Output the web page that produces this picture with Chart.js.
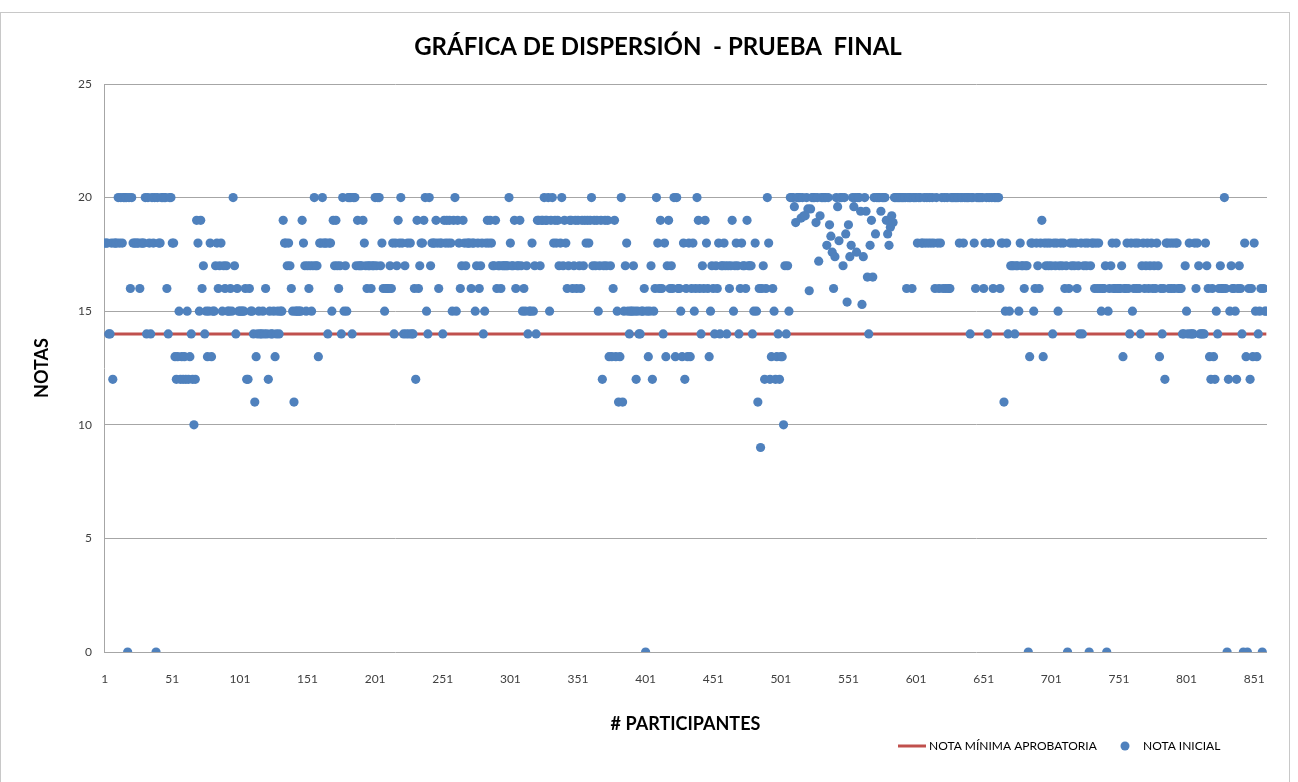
<!DOCTYPE html>
<html>
<head>
<meta charset="utf-8">
<title>Gráfica de dispersión - Prueba final</title>
<script src="https://cdn.jsdelivr.net/npm/chart.js@4.4.0/dist/chart.umd.min.js"></script>
<style>
  html, body { margin: 0; padding: 0; background: #fff; }
  #contenedor { position: relative; width: 1298px; height: 782px; }
</style>
</head>
<body>
<div id="contenedor"><canvas id="grafica" width="1298" height="782"></canvas></div>
<script>
// notas, por bloques de 100 participantes
const notas001_100 = [18,18,18,14,14,18,12,18,18,18, 20,18,20,18,20,20,20,0,20,16,
  20,18,18,18,18,18,16,18,18,18, 20,14,20,18,14,20,18,20,0,20,
  18,18,20,20,20,20,16,14,20,20, 18,18,13,12,13,15,12,13,12,13,
  12,15,12,13,14,12,10,12,19,18, 15,19,16,17,14,15,13,15,18,13,
  15,15,17,18,16,17,18,15,17,16, 17,15,15,16,15,20,17,14,16,15];
const notas101_200 = [15,15,15,15,16,12,12,16,15,15, 14,11,13,14,15,14,14,15,14,16,
  14,12,15,14,14,15,13,14,15,14, 15,15,19,18,18,17,18,17,16,15,
  11,15,15,15,15,15,19,18,17,15, 17,16,17,15,17,20,17,17,13,18,
  18,20,18,18,18,14,18,18,15,19, 17,19,17,16,17,14,20,15,17,15,
  20,20,20,14,20,20,17,19,17,17, 17,19,18,17,16,17,17,16,17,17];
const notas201_300 = [20,17,20,20,17,18,16,15,16,16, 16,17,16,18,14,18,17,19,18,20,
  18,14,17,14,18,14,18,14,14,16, 12,19,16,17,18,18,19,20,15,14,
  20,17,18,18,18,19,18,16,18,18, 14,19,18,19,18,19,18,15,19,20,
  15,19,18,16,17,19,18,17,18,18, 18,16,18,18,15,17,18,16,17,18,
  14,15,18,19,18,19,18,17,17,19, 16,17,17,16,17,17,17,17,17,20];
const notas301_400 = [18,17,17,19,16,17,17,19,17,15, 16,15,17,14,15,15,18,15,17,14,
  19,19,17,19,19,20,19,19,20,15, 19,20,18,19,18,19,17,18,20,17,
  19,18,16,17,19,19,16,17,19,16, 19,17,16,19,17,19,18,19,18,19,
  20,17,19,17,19,15,17,19,12,17, 19,17,19,13,17,13,16,19,13,15,
  11,13,20,11,15,17,18,15,14,15, 15,17,15,12,15,14,14,15,15,16];
const notas401_500 = [0,15,13,15,17,12,15,16,20,18, 16,19,16,14,18,13,17,19,16,17,
  16,20,13,20,16,16,15,13,18,12, 16,13,18,13,16,18,15,16,20,19,
  16,14,17,16,19,18,16,13,15,17, 16,14,17,16,18,14,17,17,18,17,
  14,17,16,17,19,15,17,18,17,14, 16,18,17,17,16,19,17,17,17,14,
  15,18,15,11,16,9,16,17,12,16, 20,18,12,13,16,15,12,13,14,12];
const notas501_600 = [13,13,10,17,14,17,15,20,20,20, 19.6,18.9,20,20,20,19.1,20,19.2,19.2,20,
  19.5,15.9,19.5,20,20,20,18.9,20,17.2,19.2, 20,20,20,20,17.9,20,18.8,18.3,17.6,16,
  17.4,20,19.6,18.1,20,20,17,20,18.4,15.4, 18.8,17.4,17.9,20,19.6,20,17.6,20,20,19.4,
  15.3,17.4,20,19.4,16.5,14,17.9,19,16.5,20, 18.4,20,20,20,19.4,20,20,20,19,18.4,
  17.9,18.7,19.2,18.9,20,20,20,20,20,20, 20,20,20,16,20,20,20,16,20,20];
const notas601_700 = [20,18,20,20,18,18,20,18,20,18, 20,18,20,18,16,20,18,16,18,20,
  16,20,16,20,16,16,20,20,20,20, 20,20,18,20,20,18,20,20,20,20,
  14,20,20,18,16,20,20,20,20,20, 16,18,20,14,20,18,20,16,20,20,
  20,20,16,18,18,11,15,18,14,15, 17,17,17,14,17,17,15,18,17,17,
  16,17,17,0,13,18,18,15,16,18, 17,16,18,19,13,18,17,18,17,18];
const notas701_800 = [17,14,18,17,18,15,17,18,17,18, 16,17,0,16,18,17,18,17,18,16,
  17,14,18,14,17,18,17,18,0,17, 18,18,16,18,16,18,16,15,16,16,
  17,0,15,16,17,18,16,16,18,16, 16,16,17,13,16,16,18,16,14,18,
  15,16,18,16,18,16,14,17,18,16, 17,18,16,17,18,16,17,16,18,17,
  13,16,14,16,12,18,18,16,18,16, 18,16,18,18,16,16,16,14,14,17];
const notas801_860 = [15,14,18,14,14,14,18,16,18,17, 14,14,14,14,18,17,16,13,12,16,
  13,12,15,14,16,17,16,16,20,16, 0,12,15,17,16,16,15,12,16,17,
  16,14,0,18,13,0,16,12,16,13, 18,15,13,14,15,16,0,16,15,15];

const notaMinima = 14;
const etiquetasX = [1, 51, 101, 151, 201, 251, 301, 351, 401, 451, 501, 551, 601, 651, 701, 751, 801, 851];
const etiquetasY = [0, 5, 10, 15, 20, 25];
const titulo = "GRÁFICA DE DISPERSIÓN  - PRUEBA  FINAL";

const notas = [].concat(notas001_100, notas101_200, notas201_300, notas301_400, notas401_500,
  notas501_600, notas601_700, notas701_800, notas801_860);
const participantes = notas.map((n, i) => i + 1);

const fuente = "Lato, 'Open Sans', sans-serif";
const azul = "#4F81BD";
const rojo = "#C0504D";

// marco, titulo y leyenda al estilo de Excel
const decorado = {
  id: "decorado",
  beforeDraw(chart) {
    const c = chart.ctx;
    c.save();
    c.strokeStyle = "#c8c8c8";
    c.lineWidth = 1;
    c.strokeRect(0.5, 12.5, 1289, 780);
    c.restore();
  },
  afterDraw(chart) {
    const c = chart.ctx;
    const ds = chart.data.datasets;
    c.save();
    // titulo
    c.font = "bold 24px " + fuente;
    c.fillStyle = "#000";
    c.textAlign = "center";
    c.textBaseline = "middle";
    c.fillText(titulo, 658, 47);
    // leyenda
    const y = 746;
    c.textAlign = "left";
    c.font = "12px " + fuente;
    c.strokeStyle = rojo;
    c.lineWidth = 3;
    c.beginPath();
    c.moveTo(898, y);
    c.lineTo(926, y);
    c.stroke();
    c.fillText(ds[0].label, 929, y);
    c.fillStyle = azul;
    c.beginPath();
    c.arc(1125, y, 4.5, 0, Math.PI * 2);
    c.fill();
    c.fillStyle = "#000";
    c.fillText(ds[1].label, 1143, y);
    c.restore();
  },
};

new Chart(document.getElementById("grafica"), {
  type: "scatter",
  data: {
    datasets: [
      {
        type: "line",
        label: "NOTA MÍNIMA APROBATORIA",
        data: participantes.map((p) => ({ x: p, y: notaMinima })),
        borderColor: rojo,
        borderWidth: 3,
        pointRadius: 0,
        order: 2,
      },
      {
        label: "NOTA INICIAL",
        data: participantes.map((p, i) => ({ x: p, y: notas[i] })),
        backgroundColor: azul,
        borderWidth: 0,
        pointRadius: 4.6,
        order: 1,
      },
    ],
  },
  options: {
    responsive: false,
    animation: false,
    layout: { padding: { left: 0, right: 31, top: 84, bottom: 0 } },
    plugins: {
      legend: { display: false },
      tooltip: { enabled: false },
      title: { display: false },
    },
    scales: {
      x: {
        type: "linear",
        min: 0.5,
        max: 860.5,
        afterBuildTicks: (s) => { s.ticks = etiquetasX.map((v) => ({ value: v })); },
        afterFit: (s) => { s.height = 130; },
        grid: { display: false },
        border: { display: false },
        ticks: { padding: 12, color: "#404040", font: { family: fuente, size: 12 }, autoSkip: false, maxRotation: 0 },
        title: {
          display: true,
          text: "# PARTICIPANTES",
          color: "#000",
          font: { family: fuente, size: 18, weight: "bold" },
          padding: { top: 0, bottom: 47 },
        },
      },
      y: {
        min: 0,
        max: 25,
        afterBuildTicks: (s) => { s.ticks = etiquetasY.map((v) => ({ value: v })); },
        afterFit: (s) => { s.width = 104; },
        grid: { color: "#a6a6a6", drawTicks: false },
        border: { display: true, color: "#a6a6a6" },
        ticks: { padding: 12, color: "#404040", font: { family: fuente, size: 12 } },
        title: {
          display: true,
          text: "NOTAS",
          color: "#000",
          font: { family: fuente, size: 18, weight: "bold" },
          padding: { top: 31, bottom: 0 },
        },
      },
    },
  },
  plugins: [decorado],
});
</script>
</body>
</html>
